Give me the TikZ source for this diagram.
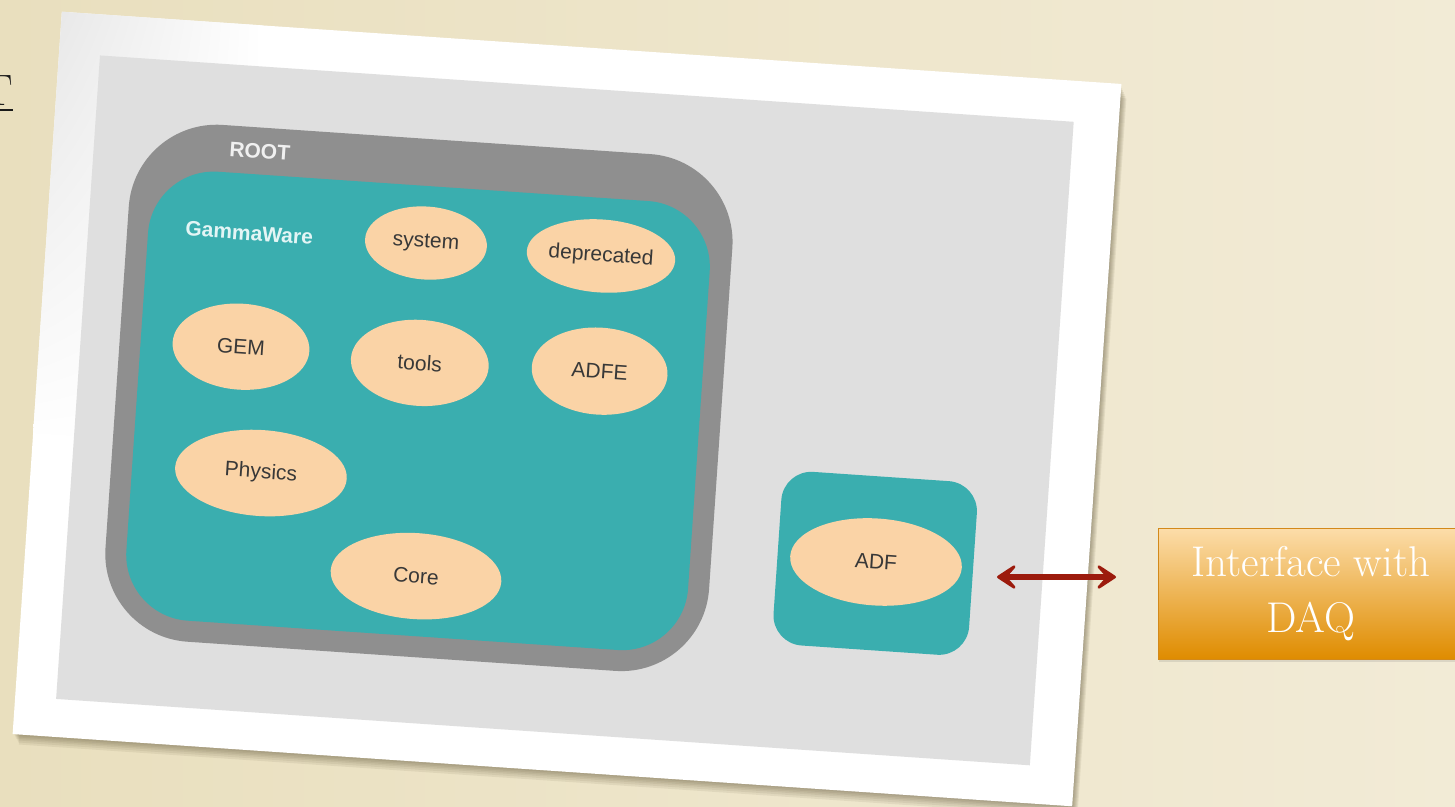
\documentclass[tikz,border=0pt]{standalone}
\usepackage{fontspec}
\newfontfamily\arialfont{Liberation Sans}
\usetikzlibrary{shapes.geometric,arrows.meta,shadows,shadings}
\definecolor{bgA}{HTML}{E9DFBE}
\definecolor{bgB}{HTML}{F2EBD6}
\definecolor{panelgray}{HTML}{DFDFDF}
\definecolor{rootgray}{HTML}{8F8F8F}
\definecolor{tealbox}{HTML}{3AAEAF}
\definecolor{peach}{HTML}{FAD3A6}
\definecolor{arrowred}{HTML}{9C1B0D}
\definecolor{orTop}{HTML}{FCDDAA}
\definecolor{orBot}{HTML}{DF8C00}
\definecolor{orEdge}{HTML}{D3891A}
\definecolor{gwtext}{HTML}{E3F5F5}
\definecolor{roottext}{HTML}{F0F0F0}
\definecolor{shadowc}{HTML}{5A5033}
\tikzset{
  inbox/.style={transform shape, inner sep=0pt, outer sep=0pt},
  rootbox/.style={inbox, rectangle, rounded corners=88pt, fill=rootgray},
  gwbox/.style={inbox, rectangle, rounded corners=66pt, fill=tealbox},
  adfbox/.style={inbox, rectangle, rounded corners=30pt, fill=tealbox},
  pkg/.style={inbox, ellipse, fill=peach, text=black!78,
    font=\arialfont\fontsize{21}{24}\selectfont},
  boxlabel/.style={inbox, font=\arialfont\bfseries\fontsize{21}{24}\selectfont},
  softshadow/.style={fill=shadowc, opacity=0.09},
  arr/.style={draw=arrowred, line width=6pt,
    {Stealth[length=26pt,width=34pt,inset=15pt,round]}-{Stealth[length=26pt,width=34pt,inset=15pt,round]}},
  daqbox/.style={rectangle, draw=orEdge, line width=1pt, top color=orTop, bottom color=orBot,
    text=white, align=center, font=\fontsize{43}{56}\selectfont,
    minimum width=306pt, minimum height=131pt, inner sep=0pt,
    drop shadow={opacity=0.2, shadow xshift=1pt, shadow yshift=-3pt}},
  cuttext/.style={inner sep=0pt, outer sep=0pt, text=black!90, font=\fontsize{44}{50}\selectfont},
}
\begin{document}
\begin{tikzpicture}[x=1pt,y=-1pt]
\useasboundingbox (0,0) rectangle (1455,806);
\clip (0,0) rectangle (1455,806);
\shade[left color=bgA, right color=bgB] (0,0) rectangle (1455,806);

% cut-off text at the left edge
\node[cuttext, anchor=base east] (tcut) at (13,105) {T};
\draw[black!90, line width=1.8pt] ([yshift=-5pt]tcut.base west) -- ([yshift=-5pt]tcut.base east);

% the rotated photo
\begin{scope}[shift={(567,409)}, rotate=-3.9]
  % soft shadow
  \fill[softshadow] (-529,-358) rectangle (532,363.5);
  \fill[softshadow] (-528,-356) rectangle (533,365);
  \fill[softshadow] (-527,-354) rectangle (534,366.5);
  \fill[softshadow] (-526,-352) rectangle (535,368);
  \fill[softshadow] (-525,-350) rectangle (536,370);
  \fill[softshadow] (-524,-348) rectangle (537,372);
  % frame
  \fill[white] (-531,-362) rectangle (531,362);
  \shade[upper left=black!10, lower left=white, upper right=white, lower right=white]
    (-531,-362) rectangle (-330,60);
  \fill[panelgray] (-490,-321) rectangle (486,324);

  \node[rootbox, minimum width=605pt, minimum height=518pt] (root) at (-148.5,-1) {};
  \node[boxlabel, text=roottext] (rootlbl) at (-324,-236) {ROOT};
  \node[gwbox, minimum width=563pt, minimum height=450pt] (gw) at (-148.5,12) {};
  \node[boxlabel, text=gwtext] (gwlbl) at (-329,-154) {GammaWare};

  \node[pkg, minimum width=122pt, minimum height=73pt] (system) at (-152,-156) {system};
  \node[pkg, minimum width=132pt, minimum height=73pt] (deprecated) at (23.5,-155) {deprecated};
  \node[pkg, minimum width=137pt, minimum height=86pt] (gem) at (-329.5,-40) {GEM};
  \node[pkg, minimum width=138pt, minimum height=86pt] (tools) at (-150,-36) {tools};
  \node[pkg, minimum width=136pt, minimum height=87pt] (adfe) at (30,-40) {ADFE};
  \node[pkg, minimum width=172pt, minimum height=86pt] (physics) at (-301,84.7) {Physics};
  \node[pkg, minimum width=171pt, minimum height=86pt] (core) at (-139.3,177) {Core};

  \node[adfbox, minimum width=196pt, minimum height=174pt] (adfbox) at (318,133) {};
  \node[pkg, minimum width=172pt, minimum height=87pt] (adf) at (318.7,131.6) {ADF};
\end{scope}

% interface box and arrow
\node[daqbox] (daq) at (1311,593.5) {Interface with\\DAQ};
\coordinate (arrL) at (997,577);
\coordinate (arrR) at (1116,577);
\draw[arr] (arrL) -- (arrR);
\end{tikzpicture}
\end{document}
